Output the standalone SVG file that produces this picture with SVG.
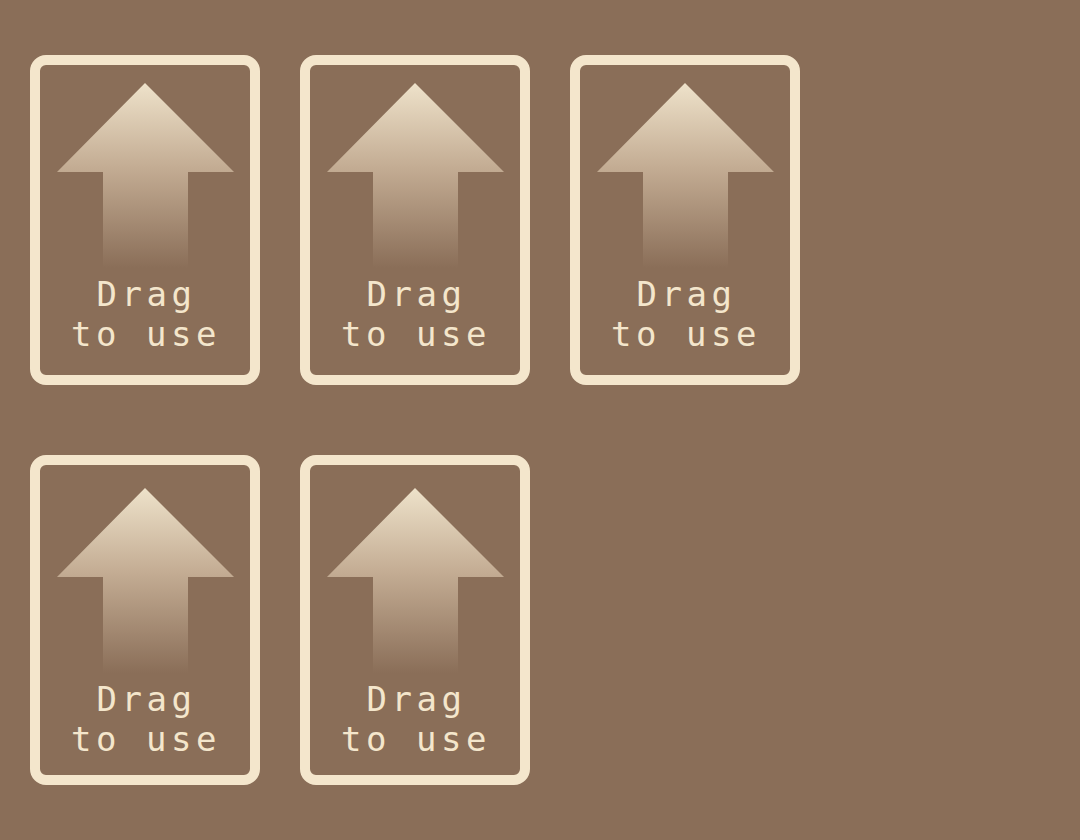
<svg xmlns="http://www.w3.org/2000/svg" width="1080" height="840" viewBox="0 0 1080 840">
<defs>
<linearGradient id="ag" x1="0" y1="0" x2="0" y2="1">
<stop offset="0" stop-color="#eee2ca"/>
<stop offset="0.45" stop-color="#c4ad94"/>
<stop offset="1" stop-color="#8a6e58"/>
</linearGradient>
<style>
.card{fill:none;stroke:#f4e6cc;stroke-width:10}
.arrow{fill:url(#ag)}
.lbl{fill:#f4e6cc;font-family:"DejaVu Sans Mono","Liberation Mono",monospace;font-size:34px;letter-spacing:4.5px;text-anchor:middle}
</style>
</defs>
<rect width="1080" height="840" fill="#8a6e58"/>
<g id="card1">
<rect class="card" x="35" y="60" width="220" height="320" rx="11"/>
<polygon class="arrow" points="145,83 234,172 188,172 188,268 103,268 103,172 57,172"/>
<text class="lbl" x="146.5" y="306">Drag</text>
<text class="lbl" x="146" y="346">to use</text>
</g>
<g id="card2" transform="translate(270,0)">
<rect class="card" x="35" y="60" width="220" height="320" rx="11"/>
<polygon class="arrow" points="145,83 234,172 188,172 188,268 103,268 103,172 57,172"/>
<text class="lbl" x="146.5" y="306">Drag</text>
<text class="lbl" x="146" y="346">to use</text>
</g>
<g id="card3" transform="translate(540,0)">
<rect class="card" x="35" y="60" width="220" height="320" rx="11"/>
<polygon class="arrow" points="145,83 234,172 188,172 188,268 103,268 103,172 57,172"/>
<text class="lbl" x="146.5" y="306">Drag</text>
<text class="lbl" x="146" y="346">to use</text>
</g>
<g id="card4" transform="translate(0,400)">
<rect class="card" x="35" y="60" width="220" height="320" rx="11"/>
<polygon class="arrow" points="145,88 234,177 188,177 188,273 103,273 103,177 57,177"/>
<text class="lbl" x="146.5" y="311">Drag</text>
<text class="lbl" x="146" y="351">to use</text>
</g>
<g id="card5" transform="translate(270,400)">
<rect class="card" x="35" y="60" width="220" height="320" rx="11"/>
<polygon class="arrow" points="145,88 234,177 188,177 188,273 103,273 103,177 57,177"/>
<text class="lbl" x="146.5" y="311">Drag</text>
<text class="lbl" x="146" y="351">to use</text>
</g>
<g id="connectors"/>
</svg>
